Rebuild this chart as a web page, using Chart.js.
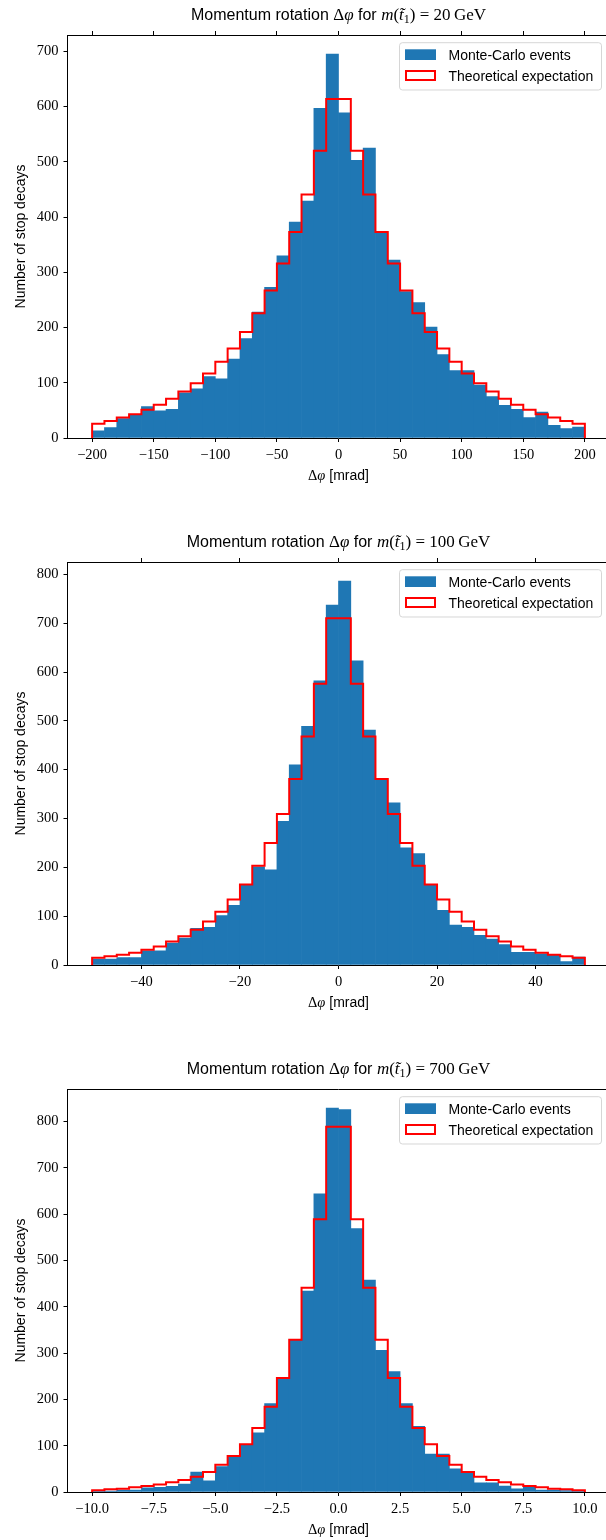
<!DOCTYPE html>
<html>
<head>
<meta charset="utf-8">
<title>Momentum rotation</title>
<script src="https://cdn.jsdelivr.net/npm/chart.js@4.4.1/dist/chart.umd.min.js"></script>
<style>
  body { margin: 0; background: #fff; width: 606px; height: 1540px; overflow: hidden; position: relative; }
  .panel { position: absolute; left: 0; }
</style>
</head>
<body>
<div class="panel" style="top:0px"><canvas id="chart20" width="620" height="527"></canvas></div>
<div class="panel" style="top:527px"><canvas id="chart100" width="620" height="527"></canvas></div>
<div class="panel" style="top:1054px"><canvas id="chart700" width="620" height="527"></canvas></div>
<script>
// stop masses (GeV), one panel each
const masses = ['20', '100', '700'];
const legendLabels = ['Monte-Carlo events', 'Theoretical expectation'];

// histogram ranges in mrad (40 bins each)
const range20 = [-200, 200];
const range100 = [-50, 50];
const range700 = [-10, 10];

// counts per bin
const mcEvents20 = [13, 19, 35, 41, 57, 49, 52, 82, 89, 111, 107, 143, 180, 228, 273, 330, 391, 429, 597, 695,
                    589, 503, 525, 372, 322, 265, 245, 201, 151, 122, 122, 96, 75, 59, 52, 37, 47, 23, 17, 20];
const theory20 = [26, 31, 37, 43, 51, 60, 71, 84, 99, 117, 138, 162, 192, 226, 267, 316, 373, 441, 520, 614,
                  614, 520, 441, 373, 316, 267, 226, 192, 162, 138, 117, 99, 84, 71, 60, 51, 43, 37, 31, 26];

const mcEvents100 = [12, 12, 15, 15, 29, 29, 45, 55, 75, 77, 101, 122, 165, 201, 195, 294, 410, 489, 582, 737,
                     786, 623, 481, 382, 332, 240, 228, 165, 112, 82, 77, 61, 53, 42, 26, 26, 23, 21, 7, 16];
const theory100 = [15, 18, 21, 25, 31, 38, 48, 59, 72, 89, 109, 134, 165, 203, 250, 309, 381, 468, 576, 710,
                   710, 576, 468, 381, 309, 250, 203, 165, 134, 109, 89, 72, 59, 48, 38, 31, 25, 21, 18, 15];

const mcEvents700 = [2, 2, 4, 4, 9, 10, 12, 17, 43, 24, 55, 75, 101, 128, 191, 246, 329, 434, 644, 829,
                     826, 569, 458, 306, 260, 191, 142, 82, 82, 50, 43, 20, 20, 13, 7, 14, 4, 4, 3, 2];
const theory700 = [4, 6, 7, 10, 13, 16, 21, 26, 33, 43, 59, 78, 103, 138, 184, 246, 329, 441, 589, 789,
                   789, 589, 441, 329, 246, 184, 138, 103, 78, 59, 43, 33, 26, 21, 16, 13, 10, 7, 6, 4];

// tick labels
const xTicks20 = [-200, -150, -100, -50, 0, 50, 100, 150, 200];
const xTicks100 = [-40, -20, 0, 20, 40];
const xTicks700 = [-10, -7.5, -5, -2.5, 0, 2.5, 5, 7.5, 10];
const yTicks20 = [0, 100, 200, 300, 400, 500, 600, 700];
const yTicks100 = [0, 100, 200, 300, 400, 500, 600, 700, 800];
const yTicks700 = [0, 100, 200, 300, 400, 500, 600, 700, 800];

const SANS = "'Liberation Sans', Arial, sans-serif";
const SERIF = "'Liberation Serif', 'Times New Roman', serif";
const BLUE = '#1f77b4';

// draw a line of text made of runs with different fonts, centred on cx
function drawRuns(ctx, runs, cx, y) {
    let total = 0;
    runs.forEach(r => { ctx.font = r.font; r.w = ctx.measureText(r.text).width; total += r.w; });
    let x = cx - total / 2;
    ctx.textAlign = 'left';
    runs.forEach(r => {
        ctx.font = r.font;
        ctx.fillText(r.text, x, y + (r.dy || 0));
        x += r.w;
    });
}

const decorations = {
    id: 'decorations',
    afterDraw(chart, args, opts) {
        const ctx = chart.ctx;
        const ca = chart.chartArea;
        const cx = (ca.left + ca.right) / 2;
        ctx.save();
        ctx.fillStyle = '#000';
        ctx.textBaseline = 'alphabetic';

        // title
        drawRuns(ctx, [
            { text: 'Momentum rotation ', font: '16px ' + SANS },
            { text: '\u0394', font: '17px ' + SERIF },
            { text: '\u03c6', font: 'italic 17px ' + SERIF },
            { text: ' for ', font: '16px ' + SANS },
            { text: 'm', font: 'italic 17px ' + SERIF },
            { text: '(', font: '17px ' + SERIF },
            { text: 't\u0303', font: 'italic 17px ' + SERIF },
            { text: '1', font: '12px ' + SERIF, dy: 3 },
            { text: ') = ' + opts.mass + '\u2009GeV', font: '17px ' + SERIF }
        ], cx, ca.top - 15);

        // x axis label
        drawRuns(ctx, [
            { text: '\u0394', font: '14.5px ' + SERIF },
            { text: '\u03c6', font: 'italic 14.5px ' + SERIF },
            { text: ' [mrad]', font: '14px ' + SANS }
        ], cx, ca.bottom + 42);

        // y axis label
        ctx.save();
        ctx.translate(25, (ca.top + ca.bottom) / 2);
        ctx.rotate(-Math.PI / 2);
        ctx.font = '14px ' + SANS;
        ctx.textAlign = 'center';
        ctx.fillText('Number of stop decays', 0, 0);
        ctx.restore();

        // legend box, upper right
        const W = 202, H = 47.3;
        const L = ca.right - 8 - W, T = ca.top + 7.7;
        ctx.beginPath();
        ctx.roundRect(L, T, W, H, 3);
        ctx.fillStyle = 'rgba(255,255,255,0.8)';
        ctx.fill();
        ctx.strokeStyle = 'rgba(204,204,204,0.8)';
        ctx.lineWidth = 1;
        ctx.stroke();

        ctx.fillStyle = BLUE;
        ctx.fillRect(L + 5.5, T + 6.6, 31, 10.7);
        ctx.fillStyle = '#fff';
        ctx.fillRect(L + 6.5, T + 28.3, 29, 9);
        ctx.strokeStyle = '#ff0000';
        ctx.lineWidth = 2;
        ctx.strokeRect(L + 6.5, T + 28.3, 29, 9);

        ctx.fillStyle = '#000';
        ctx.font = '14px ' + SANS;
        ctx.textAlign = 'left';
        ctx.fillText(legendLabels[0], L + 49, T + 17);
        ctx.fillText(legendLabels[1], L + 49, T + 37.8);
        ctx.restore();
    }
};

function makePanel(canvasId, p) {
    const lo = p.range[0], hi = p.range[1];
    const w = (hi - lo) / p.mc.length;
    const bars = p.mc.map((v, i) => ({ x: lo + w * (i + 0.5), y: v }));
    // step outline: up at the first edge, across each bin, down at the last edge
    const step = [{ x: lo, y: 0 }];
    p.theory.forEach((v, i) => step.push({ x: lo + w * i, y: v }));
    step.push({ x: hi, y: p.theory[p.theory.length - 1] });
    step.push({ x: hi, y: 0 });

    const pad = (hi - lo) * 0.05;
    const yMax = Math.max(...p.mc, ...p.theory) * 1.05;
    const fmt = v => (p.decimals ? v.toFixed(p.decimals) : String(v)).replace('-', '\u2212');
    const tickFont = { family: SERIF, size: 14.5 };

    return new Chart(document.getElementById(canvasId), {
        type: 'bar',
        data: {
            datasets: [
                {
                    type: 'line',
                    label: legendLabels[1],
                    data: step,
                    xAxisID: 'x',
                    stepped: 'before',
                    borderColor: '#ff0000',
                    borderWidth: 2,
                    borderJoinStyle: 'miter',
                    borderCapStyle: 'butt',
                    pointRadius: 0,
                    fill: false,
                    order: 1
                },
                {
                    type: 'bar',
                    label: legendLabels[0],
                    data: bars,
                    xAxisID: 'x',
                    backgroundColor: BLUE,
                    borderWidth: 0,
                    barPercentage: 1,
                    categoryPercentage: 1,
                    grouped: false,
                    order: 2
                }
            ]
        },
        options: {
            responsive: false,
            animation: false,
            events: [],
            layout: { padding: { left: 0, top: 0, right: 10.5, bottom: 0 } },
            plugins: {
                legend: { display: false },
                tooltip: { enabled: false },
                decorations: { mass: p.mass }
            },
            scales: {
                x: {
                    type: 'linear',
                    position: 'bottom',
                    min: lo - pad,
                    max: hi + pad,
                    offset: false,
                    afterBuildTicks: s => { s.ticks = p.xTicks.map(v => ({ value: v })); },
                    afterFit: s => { s.height = 89; },
                    grid: { offset: false, drawOnChartArea: false, drawTicks: true, tickLength: 4, color: '#000', lineWidth: 1 },
                    border: { display: true, color: '#000', width: 1 },
                    ticks: { font: tickFont, color: '#000', padding: 4, maxRotation: 0, autoSkip: false, callback: v => fmt(v) }
                },
                x2: {
                    type: 'linear',
                    axis: 'x',
                    position: 'top',
                    min: lo - pad,
                    max: hi + pad,
                    offset: false,
                    afterBuildTicks: s => { s.ticks = p.xTicks.map(v => ({ value: v })); },
                    afterFit: s => { s.height = 35; },
                    grid: { offset: false, drawOnChartArea: false, drawTicks: p.topTicks, tickLength: 4, color: '#000', lineWidth: 1 },
                    border: { display: true, color: '#000', width: 1 },
                    ticks: { display: false }
                },
                y: {
                    type: 'linear',
                    position: 'left',
                    min: 0,
                    max: yMax,
                    afterBuildTicks: s => { s.ticks = p.yTicks.map(v => ({ value: v })); },
                    afterFit: s => { s.width = 67.5; },
                    grid: { drawOnChartArea: false, drawTicks: true, tickLength: 4, color: '#000', lineWidth: 1 },
                    border: { display: true, color: '#000', width: 1 },
                    ticks: { font: tickFont, color: '#000', padding: 5, autoSkip: false, callback: v => String(v) }
                }
            }
        },
        plugins: [decorations]
    });
}

makePanel('chart20', { mass: masses[0], range: range20, mc: mcEvents20, theory: theory20,
                       xTicks: xTicks20, yTicks: yTicks20, decimals: 0, topTicks: true });
makePanel('chart100', { mass: masses[1], range: range100, mc: mcEvents100, theory: theory100,
                        xTicks: xTicks100, yTicks: yTicks100, decimals: 0, topTicks: true });
makePanel('chart700', { mass: masses[2], range: range700, mc: mcEvents700, theory: theory700,
                        xTicks: xTicks700, yTicks: yTicks700, decimals: 1, topTicks: false });
</script>
</body>
</html>
